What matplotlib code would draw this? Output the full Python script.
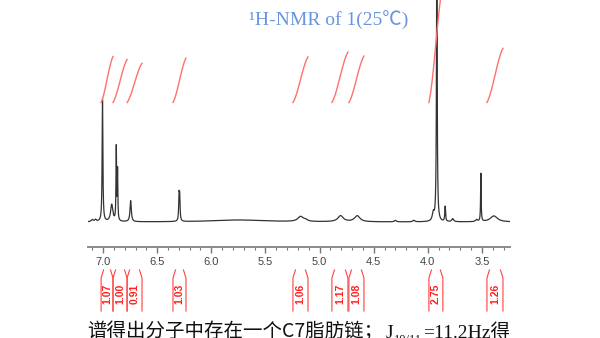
import numpy as np
import matplotlib.pyplot as plt
from matplotlib.transforms import blended_transform_factory

# peak list: position (ppm), height (arb.), half width (ppm)
peak_ppm = [7.10, 7.07, 7.005, 6.92, 6.878, 6.866, 6.745, 6.298, 6.292, 5.75, 5.176, 5.13,
            4.806, 4.652, 4.30, 4.13, 3.95, 3.917, 3.84, 3.77, 3.55, 3.51, 3.39]
peak_height = [2, 2, 122, 17, 73, 50, 21, 24, 22, 2, 5, 1.5,
               6, 6, 1.5, 1.5, 8, 270, 15, 3, 2, 48, 6]
peak_width = [0.01, 0.01, 0.004, 0.012, 0.003, 0.003, 0.007, 0.004, 0.004, 0.3, 0.03, 0.02,
              0.03, 0.03, 0.01, 0.01, 0.01, 0.004, 0.004, 0.01, 0.01, 0.003, 0.04]

# integral regions (ppm) and their values
integ_lo = [6.908, 6.778, 6.640, 6.234, 5.107, 4.738, 4.590, 3.861, 3.306]
integ_hi = [7.018, 6.908, 6.778, 6.354, 5.246, 4.886, 4.729, 3.990, 3.454]
integ_val = ["1.07", "1.00", "0.91", "1.03", "1.06", "1.17", "1.08", "2.75", "1.26"]

x_left, x_right = 7.139, 3.241
ticks = [7.0, 6.5, 6.0, 5.5, 5.0, 4.5, 4.0, 3.5]

title = "¹H-NMR of 1(25℃)"
caption = "谱得出分子中存在一个C7脂肪链；"

fig = plt.figure(figsize=(6, 3.38), dpi=100)
ax = fig.add_axes([88 / 600, 1 - 247 / 338, 422 / 600, 247 / 338])

ppm = np.linspace(x_left, x_right, 9000)
spec = np.zeros_like(ppm)
for p, h, w in zip(peak_ppm, peak_height, peak_width):
    spec += h * w**2 / ((ppm - p) ** 2 + w**2)
ax.plot(ppm, spec, color="#333333", lw=0.9)

# integral curves
base = 119.5
for lo, hi, v in zip(integ_lo, integ_hi, integ_val):
    t = np.linspace(0, 1, 50)
    s = 0.5 * t + 0.5 * (3 * t**2 - 2 * t**3)
    xs = hi - (hi - lo) * t
    ax.plot(xs, base + float(v) * 43 * s, color="#ff7070", lw=1.0)

ax.set_xlim(x_left, x_right)
ax.set_ylim(-25, 222)
for side in ["left", "right", "top"]:
    ax.spines[side].set_visible(False)
ax.spines["bottom"].set_color("#8a8a8a")
ax.spines["bottom"].set_linewidth(1.4)
ax.set_yticks([])
ax.set_xticks(ticks)
ax.set_xticklabels([f"{t:.1f}" for t in ticks], fontsize=8, color="#444444",
                   family="Liberation Sans")
ax.set_xticks(np.arange(3.3, 7.15, 0.1), minor=True)
ax.tick_params(axis="x", which="major", length=4, width=1, color="#777777", pad=3)
ax.tick_params(axis="x", which="minor", length=2, width=0.8, color="#777777")

# integral labels under the axis
tr = blended_transform_factory(ax.transData, fig.transFigure)
y_top, y_kink, y_bot = 1 - 270 / 338, 1 - 278 / 338, 1 - 311 / 338
dk = 2.5 / 108.3
for lo, hi, v in zip(integ_lo, integ_hi, integ_val):
    ax.plot([hi - dk, hi, hi], [y_top, y_kink, y_bot], transform=tr, color="#ff4040",
            lw=0.8, clip_on=False)
    ax.plot([lo + dk, lo, lo], [y_top, y_kink, y_bot], transform=tr, color="#ff4040",
            lw=0.8, clip_on=False)
    ax.text((lo + hi) / 2, 1 - 294 / 338, v, transform=tr, rotation=90, ha="center",
            va="center", fontsize=7.5, fontweight="bold", color="#ff2020",
            family="Liberation Sans")

fig.text(329 / 600, 1 - 20 / 338, title, ha="center", va="center", fontsize=14,
         color="#6a95de", family=["Liberation Serif", "Noto Sans CJK SC"])

t1 = fig.text(87 / 600, 1 - 321 / 338, caption, ha="left", va="top", fontsize=14,
              color="#111111", family=["Noto Sans CJK SC", "DejaVu Sans"])
t2 = ax.annotate("J", xy=(1, 0), xycoords=t1, xytext=(2, 0), textcoords="offset points",
                 ha="left", va="bottom", fontsize=14, color="#111111",
                 family="Liberation Serif", annotation_clip=False)
t3 = ax.annotate("10/11", xy=(1, 0), xycoords=t2, xytext=(0.5, -3),
                 textcoords="offset points", ha="left", va="bottom", fontsize=9,
                 color="#111111", family="Liberation Serif", annotation_clip=False)
ax.annotate("=11.2Hz得", xy=(1, 0), xycoords=t3, xytext=(0.5, 3),
            textcoords="offset points", ha="left", va="bottom", fontsize=14,
            color="#111111", family=["Liberation Serif", "Noto Sans CJK SC"],
            annotation_clip=False)

fig.savefig("out.png", dpi=100)
